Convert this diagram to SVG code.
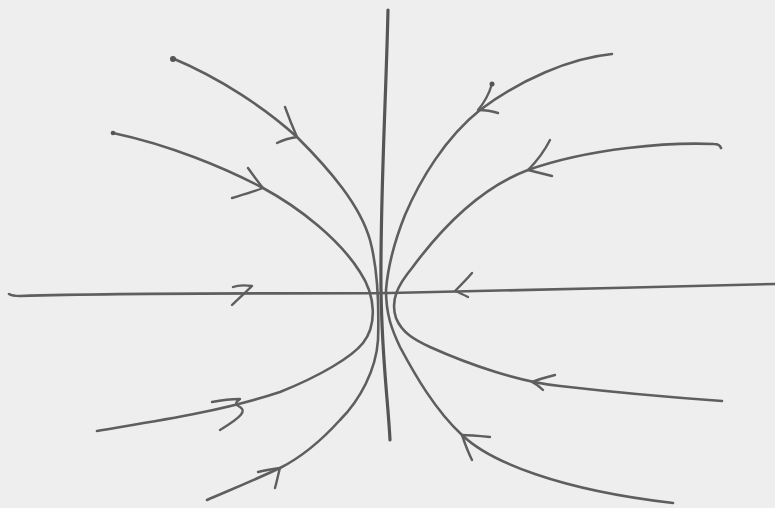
<svg xmlns="http://www.w3.org/2000/svg" width="775" height="508" viewBox="0 0 775 508">
<style>
.c{fill:none;stroke:#5e5e5e;stroke-width:2.6;stroke-linecap:round;stroke-linejoin:round}
.ax{fill:none;stroke:#555;stroke-width:3.2;stroke-linecap:round}
.ah{fill:none;stroke:#5e5e5e;stroke-width:2.4;stroke-linecap:round;stroke-linejoin:round}
.dot{fill:#555}
</style>
<rect width="775" height="508" fill="#eeeeee"/>
<g id="axes">
<path class="ax" d="M388,10 C386,100 380,200 381,290 C382,360 388,400 390,440"/>
<path class="c" d="M9,294 C12,296 15,296 20,296 C150,292 300,294 390,293 C500,291 650,287 775,284"/>
</g>
<g id="trajectories">
<path class="c" d="M113,133 C170,145 225,168 263,188 C300,208 340,240 360,272 C376,296 377,325 363,343 C352,357 320,376 280,392 C220,412 150,422 97,431"/>
<path class="c" d="M172,58 C220,78 265,108 297,137 C330,170 360,205 370,240 C378,270 379,310 378,340 C376,370 360,400 340,420 C320,442 300,458 280,468 C250,482 230,490 207,500"/>
<path class="c" d="M612,54 C570,58 520,80 480,110 C445,138 420,180 405,215 C395,240 388,265 386,290 C386,315 392,330 400,347 C415,375 435,410 462,435 C490,462 560,490 673,503"/>
<path class="c" d="M721,148 C720,145 718,144 714,144 C670,142 590,148 528,170 C480,188 440,230 412,268 C398,285 390,300 396,318 C402,333 415,340 430,347 C470,365 520,382 560,386 C620,393 680,398 722,401"/>
</g>
<g id="arrowheads">
<path class="ah" d="M285,107 C289,118 293,128 297,137 C290,138 283,140 277,143"/>
<path class="ah" d="M248,168 C253,175 258,182 263,188 C253,192 242,195 232,198"/>
<path class="ah" d="M492,84 C489,94 484,103 478,110 C485,110 492,111 498,113"/>
<path class="ah" d="M550,140 C545,150 537,161 528,170 C536,172 544,174 552,176"/>
<path class="ah" d="M555,375 C547,377 539,379 532,382 C536,384 540,387 543,390"/>
<path class="ah" d="M490,437 C480,436 470,435 462,435 C465,444 468,452 472,460"/>
<path class="ah" d="M212,402 C222,400 231,399 240,399 C236,402 234,404 240,407 C246,411 243,416 220,430"/>
<path class="ah" d="M258,472 C265,470 272,469 280,468 C278,475 277,481 275,488"/>
<path class="ah" d="M472,273 C466,280 460,286 455,291 C460,293 464,295 468,297"/>
<path class="ah" d="M233,287 C238,285 245,285 252,286 C246,292 239,298 232,305"/>
<circle class="dot" cx="173" cy="59" r="3"/>
<circle class="dot" cx="113" cy="133" r="2.3"/>
<circle class="dot" cx="492" cy="84" r="2.5"/>
</g>
</svg>
